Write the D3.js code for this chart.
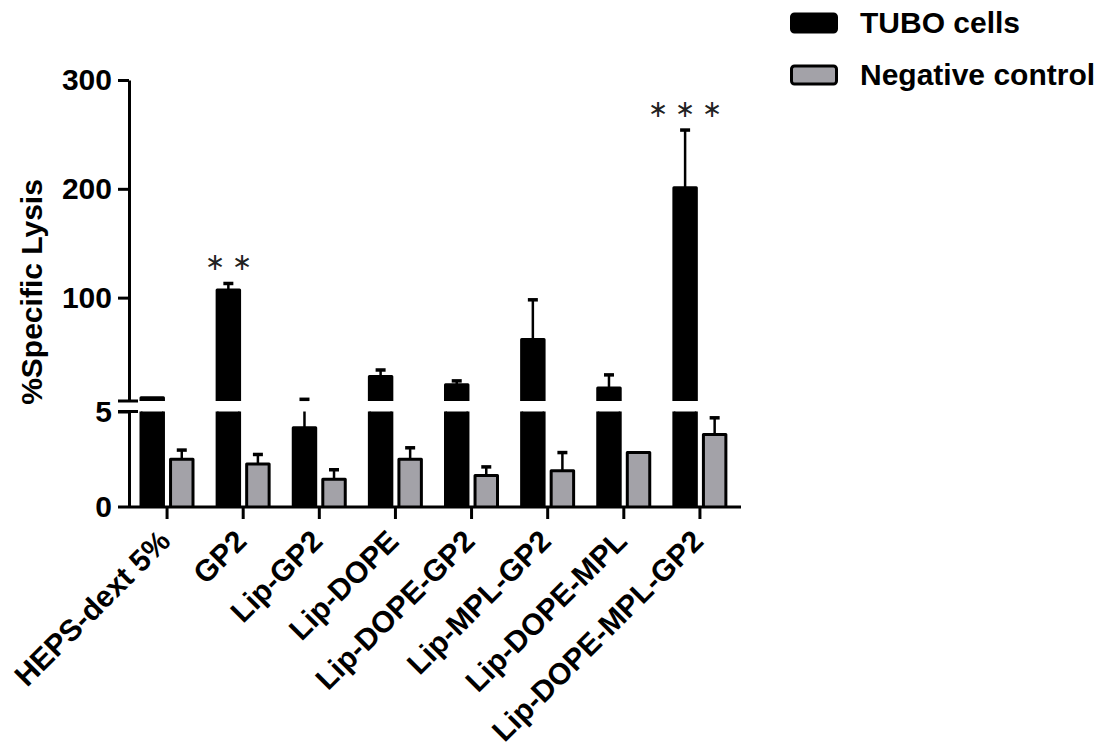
<!DOCTYPE html>
<html>
<head>
<meta charset="utf-8">
<script src="https://cdn.jsdelivr.net/npm/d3@7/dist/d3.min.js"></script>
<style>
  body { margin: 0; background: #fff; }
  text { font-family: Arial, "Liberation Sans", sans-serif; }
</style>
</head>
<body>
<svg class="chart"></svg>
<script>
// data
var categories = ["HEPS-dext 5%", "GP2", "Lip-GP2", "Lip-DOPE", "Lip-DOPE-GP2",
                  "Lip-MPL-GP2", "Lip-DOPE-MPL", "Lip-DOPE-MPL-GP2"];
var series = ["TUBO cells", "Negative control"];
var tuboMean = [8, 107, 4.15, 27.5, 20, 61.5, 17, 201];
var tuboErr  = [0, 6, 2.4, 6, 3.5, 36.5, 12, 53];
var negMean  = [2.5, 2.25, 1.45, 2.5, 1.65, 1.9, 2.85, 3.8];
var negErr   = [0.48, 0.5, 0.5, 0.6, 0.45, 0.95, 0, 0.87];
var stars    = ["", "\u2217 \u2217", "", "", "", "", "", "\u2217 \u2217 \u2217"];
var lowTicks = [0, 5];
var highTicks = [100, 200, 300];

var W = 1118, H = 748;
var axisX = 129;
var FONT = 'Arial, "Liberation Sans", sans-serif';
var chart = d3.select('.chart').attr('width', W).attr('height', H);

// broken y axis: 0-5 below, 5-300 above
var yLow = d3.scaleLinear().domain([0, 5]).range([507, 411.5]);
var yHigh = d3.scaleLinear().domain([5, 300]).range([401, 80]);

var x0 = d3.scaleBand().domain(categories).range([axisX, 738]);
var x1 = d3.scaleBand().domain(series).range([12, 64]).paddingInner(0.24);
var colors = {"TUBO cells": "#000000", "Negative control": "#a3a2a8"};

var rows = categories.map(function (c, i) {
    return [
        {cat: c, s: series[0], v: tuboMean[i], e: tuboErr[i]},
        {cat: c, s: series[1], v: negMean[i], e: negErr[i]}
    ];
});

// draw one piece of a bar inside a segment; only the real top gets the stroke cap
function barPiece(g, d, scale, lo, hi) {
    var top = Math.min(d.v, hi);
    if (top <= lo) return;
    var xl = x0(d.cat) + x1(d.s), xr = xl + x1.bandwidth();
    var yb = scale(lo), yt = scale(top);
    var p = d3.path();
    p.moveTo(xl, yb); p.lineTo(xl, yt); p.lineTo(xr, yt); p.lineTo(xr, yb);
    g.append('path').attr('d', p.toString() + 'Z')
        .attr('fill', colors[d.s]).attr('stroke', 'none');
    var s = d3.path();
    if (top < hi || d.v === hi) {
        s.moveTo(xl, yb); s.lineTo(xl, yt); s.lineTo(xr, yt); s.lineTo(xr, yb);
    } else {
        s.moveTo(xl, yb); s.lineTo(xl, yt); s.moveTo(xr, yt); s.lineTo(xr, yb);
    }
    g.append('path').attr('d', s.toString())
        .attr('fill', 'none').attr('stroke', '#000').attr('stroke-width', 3)
        .attr('stroke-linejoin', 'round');
}

function errPiece(g, d, scale, lo, hi) {
    if (!d.e) return;
    var top = d.v + d.e;
    var a = Math.max(d.v, lo), b = Math.min(top, hi);
    if (b <= a) return;
    var cx = x0(d.cat) + x1(d.s) + x1.bandwidth() / 2;
    g.append('line').attr('x1', cx).attr('x2', cx)
        .attr('y1', scale(a)).attr('y2', scale(b))
        .attr('stroke', '#000').attr('stroke-width', 2.5);
    if (top <= hi) {
        g.append('line').attr('x1', cx - 5).attr('x2', cx + 5)
            .attr('y1', scale(top)).attr('y2', scale(top))
            .attr('stroke', '#000').attr('stroke-width', 3.5);
    }
}

var bars = chart.append('g').attr('id', 'bars');
rows.forEach(function (r) {
    r.forEach(function (d) {
        errPiece(bars, d, yLow, 0, 5);
        errPiece(bars, d, yHigh, 5, 300);
        barPiece(bars, d, yLow, 0, 5);
        barPiece(bars, d, yHigh, 5, 300);
    });
});

// significance stars
chart.append('g').selectAll('text').data(categories).enter().append('text')
    .attr('x', function (c) { return x0(c) + x1(series[0]) + x1.bandwidth() / 2; })
    .attr('y', function (c, i) { return yHigh(tuboMean[i] + tuboErr[i]) - 13; })
    .attr('text-anchor', 'middle')
    .attr('font-family', '"DejaVu Sans", sans-serif')
    .attr('font-size', 24).attr('fill', '#222')
    .text(function (c, i) { return stars[i]; });

// y axis, two segments
function styleAxis(g) {
    g.select('.domain').attr('stroke-width', 3);
    g.selectAll('.tick line').attr('stroke-width', 3);
    g.selectAll('.tick text').attr('font-size', 30).attr('font-weight', 'bold')
        .attr('font-family', FONT).attr('fill', '#000');
}
var gHigh = chart.append('g').attr('transform', 'translate(' + axisX + ',0)')
    .call(d3.axisLeft(yHigh).tickValues(highTicks).tickFormat(d3.format('d'))
        .tickSize(11).tickSizeOuter(0).tickPadding(6));
styleAxis(gHigh);
var gLow = chart.append('g').attr('transform', 'translate(' + axisX + ',0)')
    .call(d3.axisLeft(yLow).tickValues(lowTicks).tickFormat(d3.format('d'))
        .tickSize(11).tickSizeOuter(0).tickPadding(6));
styleAxis(gLow);
gLow.selectAll('.tick').filter(function (d) { return d === 0; }).select('line').remove();
// break marks
[yHigh(5), yLow(5)].forEach(function (yy) {
    chart.append('line').attr('x1', axisX - 11).attr('x2', axisX + 9)
        .attr('y1', yy).attr('y2', yy).attr('stroke', '#000').attr('stroke-width', 3);
});

// x axis
var gx = chart.append('g').attr('transform', 'translate(0,' + yLow(0) + ')')
    .call(d3.axisBottom(x0).tickSize(12).tickSizeOuter(0));
gx.select('.domain').attr('stroke-width', 3).attr('d', 'M' + (axisX - 11) + ',0H741');
gx.selectAll('.tick line').attr('stroke-width', 3);
gx.selectAll('.tick text')
    .attr('font-size', 30).attr('font-weight', 'bold').attr('fill', '#000')
    .attr('font-family', FONT)
    .attr('text-anchor', 'end').attr('dy', null).attr('y', 0)
    .attr('transform', 'translate(5,36) rotate(-45)');

// y label
chart.append('text')
    .attr('transform', 'translate(42,292) rotate(-90)')
    .attr('text-anchor', 'middle').attr('font-size', 30).attr('font-weight', 'bold')
    .text('%Specific Lysis');

// legend
var legend = chart.append('g').attr('id', 'legend');
series.forEach(function (s, i) {
    var yy = 14 + i * 52;
    legend.append('rect').attr('x', 791.5).attr('y', yy).attr('width', 45).attr('height', 18)
        .attr('rx', 3).attr('fill', colors[s]).attr('stroke', '#000').attr('stroke-width', 3);
    legend.append('text').attr('x', 860).attr('y', yy + 19)
        .attr('font-size', 30).attr('font-weight', 'bold').text(s);
});
</script>
</body>
</html>
